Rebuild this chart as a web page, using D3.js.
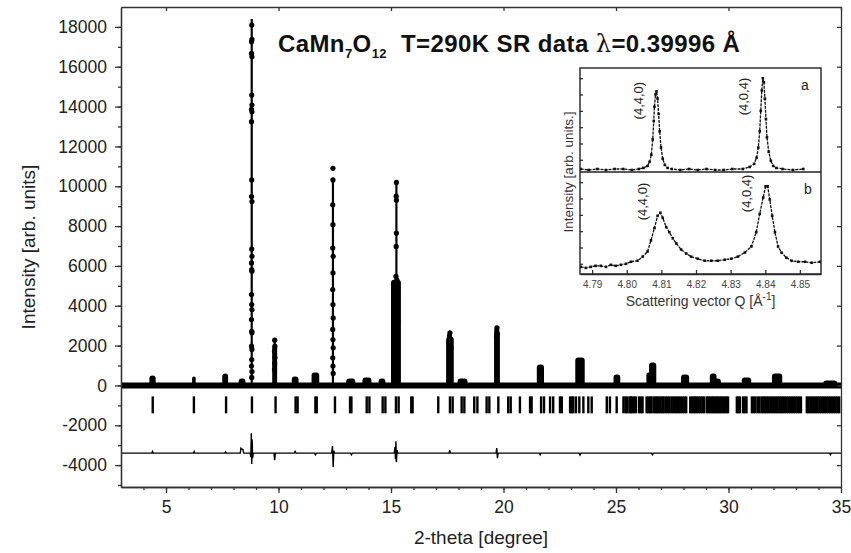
<!DOCTYPE html>
<html>
<head>
<meta charset="UTF-8">
<title>CaMn7O12 powder pattern</title>
<script src="https://d3js.org/d3.v7.min.js"></script>
<style>
  body { margin: 0; background: #fff; }
  svg { display: block; font-family: "Liberation Sans", Arial, sans-serif; }
  .axis path, .axis line { stroke: #333; stroke-width: 1.3; }
  .axis text { fill: #222; font-size: 17.5px; font-family: "Liberation Sans", Arial, sans-serif; }
  .inset .axis text { font-size: 10px; fill: #444; }
</style>
</head>
<body>
<svg id="chart" width="851" height="553"></svg>
<script>
// ---- main pattern data (2-theta in degree, intensity in arb. units) ----
const xTicks = [5, 10, 15, 20, 25, 30, 35];
const yTicks = [-4000, -2000, 0, 2000, 4000, 6000, 8000, 10000, 12000, 14000, 16000, 18000];

// small / medium reflections drawn as mounds: position, height, width
const peakTheta  = [4.40, 4.96, 5.88, 6.24, 7.63, 8.38, 9.49, 9.83, 10.74, 11.64, 13.21, 13.93, 14.60, 15.22, 15.93, 17.10, 17.62, 18.18, 19.71, 20.73, 21.64, 23.40, 25.04, 26.45, 26.63, 28.07, 29.32, 29.52, 30.80, 32.16, 34.52];
const peakHeight = [500, 120, 100, 450, 600, 350, 120, 2000, 450, 650, 350, 400, 350, 5300, 120, 100, 2450, 350, 2750, 100, 1050, 1400, 550, 650, 1150, 550, 600, 350, 400, 600, 250];
const peakWidth  = [0.28, 0.15, 0.15, 0.16, 0.26, 0.30, 0.18, 0.22, 0.30, 0.34, 0.40, 0.40, 0.30, 0.44, 0.20, 0.15, 0.34, 0.44, 0.26, 0.18, 0.32, 0.42, 0.30, 0.20, 0.32, 0.36, 0.30, 0.28, 0.42, 0.46, 0.62];

// calculated profile of the strong narrow lines
const stickTheta = [8.81, 9.83, 12.42, 15.24, 17.62, 19.71];
const stickTop   = [18400, 2350, 10300, 10190, 2450, 2850];

// observed points on the strong lines
const obsPoints = [
  [8.81, 18090], [8.82, 17370], [8.80, 17250], [8.80, 16670], [8.82, 16500], [8.81, 14580], [8.82, 14080],
  [8.80, 13860], [8.82, 13740], [8.80, 13240], [8.81, 10320], [8.80, 9480], [8.82, 9230], [8.81, 6850],
  [8.82, 6480], [8.80, 6150], [8.81, 5810], [8.82, 5730], [8.80, 4560], [8.81, 4060], [8.82, 3810],
  [8.80, 3310], [8.81, 2720], [8.82, 2640], [8.80, 1970], [8.82, 1800], [8.81, 1300], [8.80, 970],
  [8.82, 700], [8.81, 400],
  [9.83, 2270], [9.84, 1970], [9.82, 1700], [9.84, 1400], [9.83, 1100], [9.82, 800],
  [12.42, 10900], [12.42, 10320], [12.41, 9070], [12.42, 8070], [12.41, 6900], [12.43, 6480], [12.42, 5650],
  [12.41, 4810], [12.42, 4060], [12.43, 3390], [12.41, 2810], [12.42, 2300], [12.43, 1890], [12.41, 1390],
  [12.42, 970], [12.43, 600],
  [15.24, 10190], [15.23, 9500], [15.24, 9300], [15.24, 7650], [15.23, 6980], [15.22, 5480], [15.26, 5300],
  [15.18, 5150], [15.15, 4700], [15.30, 4500], [15.14, 3600], [15.31, 3200],
  [17.62, 2640], [17.60, 2500], [17.64, 2350], [17.58, 2150], [17.66, 1900],
  [19.71, 2890], [19.70, 2750], [19.72, 2600], [19.69, 2400]
];

// baseline of the observed pattern
const background = [[3, 0], [35, 0]];

// Bragg reflection markers
const reflTheta = [4.41, 6.24, 7.67, 8.82, 9.87, 10.76, 10.85, 11.64, 11.70, 12.51, 13.18, 13.24, 13.92, 14.04,
  14.63, 14.75, 15.22, 15.34, 15.90, 15.96, 17.10, 17.62, 17.74, 18.14, 18.26, 18.70, 18.84,
  19.25, 19.37, 19.77, 20.21, 20.32, 20.73, 21.18, 21.25, 21.67, 21.80, 22.07, 22.21, 22.51, 22.59,
  22.96, 23.04, 23.10, 23.22, 23.37, 23.55, 23.77, 23.92, 24.59, 24.73, 25.03, 25.33, 25.42, 25.50,
  25.60, 25.66, 25.72, 25.80, 25.88, 26.02, 26.10, 26.18, 26.36, 26.44, 26.52, 26.58, 26.68, 26.76,
  26.82, 26.90, 26.98, 27.06, 27.12, 27.22, 27.30, 27.38, 27.47, 27.55, 27.63, 27.72, 27.80, 27.88,
  27.96, 28.04, 28.12, 28.30, 28.38, 28.45, 28.52, 28.60, 28.68, 28.76, 28.84, 28.92, 29.04, 29.11,
  29.18, 29.26, 29.33, 29.40, 29.47, 29.54, 29.61, 29.68, 29.76, 29.84, 29.92, 29.98, 30.37, 30.44,
  30.51, 30.65, 30.72, 30.80, 31.04, 31.12, 31.20, 31.30, 31.38, 31.48, 31.55, 31.62, 31.70, 31.78,
  31.86, 31.94, 32.02, 32.10, 32.18, 32.26, 32.34, 32.42, 32.50, 32.58, 32.66, 32.74, 32.82, 32.90,
  32.98, 33.06, 33.14, 33.22, 33.48, 33.56, 33.64, 33.72, 33.80, 33.88, 33.96, 34.04, 34.12, 34.20,
  34.28, 34.36, 34.44, 34.52, 34.60, 34.68, 34.76, 34.84, 34.92];

// difference curve (obs - calc), plotted shifted down
const diffPoints = [
  [3, 0], [4.37, 0], [4.40, 80], [4.43, 0], [6.22, 0], [6.25, 80], [6.28, 0], [7.62, 0], [7.65, 60], [7.68, 0],
  [8.30, 0], [8.33, 250], [8.38, 200], [8.42, 180], [8.45, 0], [8.74, 0], [8.77, -200], [8.79, 1000],
  [8.81, -550], [8.83, 700], [8.85, -250], [8.88, 0], [9.80, 0], [9.83, -350], [9.86, 0],
  [10.70, 0], [10.74, 80], [10.78, 0], [11.60, 0], [11.64, -80], [11.68, 0],
  [12.36, 0], [12.40, 350], [12.43, -700], [12.46, 120], [12.50, 0], [13.20, 0], [13.24, -80], [13.28, 0],
  [15.14, 0], [15.18, 300], [15.20, -300], [15.22, 600], [15.24, -450], [15.27, 150], [15.30, 0],
  [17.58, 0], [17.61, 150], [17.64, 0], [19.67, 0], [19.70, 250], [19.73, -250], [19.76, 0],
  [21.60, 0], [21.63, -80], [21.66, 0], [23.36, 0], [23.40, -100], [23.44, 0],
  [26.58, 0], [26.62, -80], [26.66, 0], [34.50, 0], [34.53, -80], [34.56, 0], [35, 0]
];

// ---- inset: (4,4,0) and (4,0,4) reflections vs scattering vector Q ----
const qTicks = [4.79, 4.80, 4.81, 4.82, 4.83, 4.84, 4.85];
const insetA = [
  [4.7867, 1], [4.789, 0], [4.7915, 1], [4.794, 0], [4.7965, 1], [4.799, 1], [4.8015, 0], [4.8035, 1],
  [4.8048, 2], [4.806, 4], [4.8066, 8], [4.8071, 15], [4.8075, 30], [4.8078, 48], [4.808, 62], [4.8083, 74],
  [4.8086, 77], [4.8089, 70], [4.8092, 55], [4.8095, 38], [4.8099, 22], [4.8104, 11], [4.811, 5],
  [4.8118, 2], [4.813, 1], [4.8155, 0], [4.818, 1], [4.8205, 0], [4.823, 1], [4.8255, 0], [4.828, 0],
  [4.8305, 1], [4.8335, 1], [4.8355, 3], [4.8368, 6], [4.8375, 12], [4.838, 22], [4.8384, 38], [4.8387, 58],
  [4.839, 78], [4.8393, 90], [4.8396, 86], [4.8399, 70], [4.8402, 50], [4.8405, 32], [4.841, 18],
  [4.8416, 9], [4.8423, 4], [4.8432, 2], [4.845, 1], [4.848, 0], [4.851, 1]
];
const insetB = [
  [4.7867, 7], [4.7882, 6], [4.7896, 7], [4.791, 8], [4.7925, 8], [4.794, 7], [4.7954, 9], [4.7968, 8],
  [4.7983, 9], [4.7998, 10], [4.8012, 12], [4.8031, 13], [4.8046, 17], [4.806, 22], [4.807, 33],
  [4.808, 45], [4.8089, 57], [4.8097, 60], [4.8104, 55], [4.8114, 46], [4.8123, 41], [4.8133, 35],
  [4.8143, 30], [4.8157, 24], [4.8172, 20], [4.8186, 17], [4.8205, 15], [4.8225, 13], [4.8244, 13],
  [4.8263, 13], [4.8283, 14], [4.8302, 15], [4.8321, 17], [4.8341, 21], [4.836, 27], [4.8374, 41],
  [4.8384, 59], [4.8394, 75], [4.8401, 86], [4.8407, 86], [4.8413, 73], [4.842, 57], [4.8428, 41],
  [4.8437, 27], [4.8447, 21], [4.8461, 16], [4.8476, 13], [4.8495, 12], [4.8515, 12], [4.8534, 11],
  [4.8558, 12]
];
const insetLabels = [
  { panel: "a", q: 4.8076, v: 68, text: "(4,4,0)" },
  { panel: "a", q: 4.8379, v: 72, text: "(4,0,4)" },
  { panel: "b", q: 4.8087, v: 71, text: "(4,4,0)" },
  { panel: "b", q: 4.8389, v: 79, text: "(4,0,4)" }
];

// ---- layout ----
const W = 851, H = 553;
const m = { left: 121, top: 7, right: 10, bottom: 66 };
const svg = d3.select("#chart");
svg.append("rect").attr("width", W).attr("height", H).attr("fill", "#fff");

const x = d3.scaleLinear().domain([3, 35]).range([m.left, W - m.right]);
const y = d3.scaleLinear().domain([-5100, 19000]).range([H - m.bottom, m.top]);
const diffOffset = -3400;
const reflTop = -550, reflBottom = -1400;

const plot = svg.append("g");

// baseline band
plot.append("path")
  .datum(background)
  .attr("fill", "none").attr("stroke", "#000").attr("stroke-width", 6)
  .attr("d", d3.line().x(d => x(d[0])).y(d => y(d[1])));

// mounds
plot.selectAll(".mound")
  .data(peakTheta.map((t, i) => ({ t, h: peakHeight[i], w: peakWidth[i] })))
  .enter().append("path")
  .attr("class", "mound")
  .attr("fill", "#000")
  .attr("d", d => {
    const x0 = x(d.t - d.w / 2), x1 = x(d.t + d.w / 2);
    const yt = y(d.h), yb = y(0);
    const r = Math.min(3, (x1 - x0) / 2, (yb - yt) / 2 + 1);
    return `M${x0},${yb}L${x0},${yt + r}Q${x0},${yt} ${x0 + r},${yt}L${x1 - r},${yt}Q${x1},${yt} ${x1},${yt + r}L${x1},${yb}Z`;
  });

// calculated lines
plot.selectAll(".stick")
  .data(stickTheta.map((t, i) => ({ t, top: stickTop[i] })))
  .enter().append("line")
  .attr("stroke", "#000").attr("stroke-width", 2.2)
  .attr("x1", d => x(d.t)).attr("x2", d => x(d.t))
  .attr("y1", y(0)).attr("y2", d => y(d.top));

// observed points
plot.selectAll(".obs")
  .data(obsPoints)
  .enter().append("circle")
  .attr("r", 2.6).attr("fill", "#000")
  .attr("cx", d => x(d[0])).attr("cy", d => y(d[1]));

// Bragg markers
plot.selectAll(".refl")
  .data(reflTheta)
  .enter().append("line")
  .attr("stroke", "#000").attr("stroke-width", 2.4)
  .attr("x1", d => x(d)).attr("x2", d => x(d))
  .attr("y1", y(reflTop)).attr("y2", y(reflBottom));

// difference curve
plot.append("path")
  .datum(diffPoints)
  .attr("fill", "none").attr("stroke", "#000").attr("stroke-width", 1.4)
  .attr("d", d3.line().x(d => x(d[0])).y(d => y(d[1] + diffOffset)));

// ---- axes ----
const xMinor = d3.range(4, 35, 1);
const yMinor = d3.range(-5000, 19000, 1000);
const plain = d => String(d);

svg.append("g").attr("class", "axis").attr("transform", `translate(0,${H - m.bottom})`)
  .call(d3.axisBottom(x).tickValues(xTicks).tickSize(6).tickPadding(8).tickFormat(plain).tickSizeOuter(0));
svg.append("g").attr("class", "axis").attr("transform", `translate(0,${H - m.bottom})`)
  .call(d3.axisBottom(x).tickValues(xMinor).tickSize(3).tickFormat("").tickSizeOuter(0));
svg.append("g").attr("class", "axis").attr("transform", `translate(0,${m.top})`)
  .call(d3.axisBottom(x).tickValues(xTicks).tickSize(4).tickFormat("").tickSizeOuter(0));

svg.append("g").attr("class", "axis").attr("transform", `translate(${m.left},0)`)
  .call(d3.axisLeft(y).tickValues(yTicks).tickSize(6).tickPadding(8).tickFormat(plain).tickSizeOuter(0));
svg.append("g").attr("class", "axis").attr("transform", `translate(${m.left},0)`)
  .call(d3.axisLeft(y).tickValues(yMinor).tickSize(3).tickFormat("").tickSizeOuter(0));
svg.append("g").attr("class", "axis").attr("transform", `translate(${W - m.right},0)`)
  .call(d3.axisLeft(y).tickValues(yTicks).tickSize(4).tickFormat("").tickSizeOuter(0));

svg.append("text")
  .attr("x", (m.left + W - m.right) / 2).attr("y", 544)
  .attr("text-anchor", "middle").attr("font-size", 19).attr("fill", "#222")
  .text("2-theta [degree]");
svg.append("text")
  .attr("transform", `translate(35,${(m.top + H - m.bottom) / 2})rotate(-90)`)
  .attr("text-anchor", "middle").attr("font-size", 19).attr("fill", "#222")
  .text("Intensity [arb. units]");

// ---- title ----
const title = svg.append("text").attr("x", 278).attr("y", 52)
  .attr("font-size", 24).attr("font-weight", "bold").attr("fill", "#111")
  .attr("letter-spacing", 0.4);
title.append("tspan").text("CaMn");
title.append("tspan").attr("dy", 6).attr("font-size", 13).text("7");
title.append("tspan").attr("dy", -6).text("O");
title.append("tspan").attr("dy", 6).attr("font-size", 13).text("12");
title.append("tspan").attr("dy", -6).text("\u00a0 T=290K SR data ");
title.append("tspan").attr("font-family", "'DejaVu Serif', serif").attr("font-weight", "normal").text("\u03bb");
title.append("tspan").text("=0.39996 \u00c5");

// ---- inset ----
const ins = { left: 580, right: 821, top: 68, mid: 172, bottom: 274 };
const q = d3.scaleLinear().domain([4.7865, 4.8561]).range([ins.left, ins.right]);
const ya = d3.scaleLinear().domain([0, 100]).range([ins.mid - 2, ins.top]);
const yb = d3.scaleLinear().domain([0, 100]).range([ins.bottom, ins.mid]);
const inset = svg.append("g").attr("class", "inset");

inset.append("rect")
  .attr("x", ins.left).attr("y", ins.top)
  .attr("width", ins.right - ins.left).attr("height", ins.bottom - ins.top)
  .attr("fill", "#fff");

svg.append("clipPath").attr("id", "insetClip").append("rect")
  .attr("x", ins.left).attr("y", ins.top)
  .attr("width", ins.right - ins.left).attr("height", ins.bottom - ins.top);

[[insetA, ya], [insetB, yb]].forEach(([data, ys]) => {
  const g = inset.append("g").attr("clip-path", "url(#insetClip)");
  g.append("path").datum(data)
    .attr("fill", "none").attr("stroke", "#111").attr("stroke-width", 1.3)
    .attr("stroke-dasharray", "3,1")
    .attr("d", d3.line().x(d => q(d[0])).y(d => ys(d[1])));
  g.selectAll("rect").data(data).enter().append("rect")
    .attr("x", d => q(d[0]) - 1.3).attr("y", d => ys(d[1]) - 1.3)
    .attr("width", 2.6).attr("height", 2.6).attr("fill", "#111");
});

// inset axes
inset.append("g").attr("class", "axis").attr("transform", `translate(0,${ins.bottom})`)
  .call(d3.axisTop(q).tickValues(qTicks).tickSize(4).tickFormat("").tickSizeOuter(0));
inset.append("g").attr("class", "axis").attr("transform", `translate(0,${ins.bottom})`)
  .call(d3.axisBottom(q).tickValues(qTicks).tickSize(0).tickPadding(7).tickFormat(d3.format(".2f")).tickSizeOuter(0))
  .call(g => g.select(".domain").remove());
inset.append("g").attr("class", "axis").attr("transform", `translate(${ins.left},0)`)
  .call(d3.axisRight(ya).tickValues([10, 26, 42, 58, 74, 90]).tickSize(3).tickFormat("").tickSizeOuter(0))
  .call(g => g.select(".domain").remove());
inset.append("g").attr("class", "axis").attr("transform", `translate(${ins.left},0)`)
  .call(d3.axisRight(yb).tickValues([10, 26, 42, 58, 74, 90]).tickSize(3).tickFormat("").tickSizeOuter(0))
  .call(g => g.select(".domain").remove());

inset.append("rect")
  .attr("x", ins.left).attr("y", ins.top)
  .attr("width", ins.right - ins.left).attr("height", ins.bottom - ins.top)
  .attr("fill", "none").attr("stroke", "#222").attr("stroke-width", 1.4);
inset.append("line")
  .attr("x1", ins.left).attr("x2", ins.right).attr("y1", ins.mid).attr("y2", ins.mid)
  .attr("stroke", "#222").attr("stroke-width", 1.4);

inset.selectAll(".plabel")
  .data(insetLabels)
  .enter().append("text")
  .attr("transform", d => `translate(${q(d.q) - 10},${(d.panel === "a" ? ya : yb)(d.v)})rotate(-90)`)
  .attr("text-anchor", "middle").attr("font-size", 13).attr("fill", "#222")
  .text(d => d.text);

inset.append("text").attr("x", 805).attr("y", 90).attr("text-anchor", "middle")
  .attr("font-size", 14).attr("fill", "#222").text("a");
inset.append("text").attr("x", 808).attr("y", 194).attr("text-anchor", "middle")
  .attr("font-size", 14).attr("fill", "#222").text("b");

inset.append("text")
  .attr("transform", `translate(573,${ins.mid})rotate(-90)`)
  .attr("text-anchor", "middle").attr("font-size", 13.5).attr("fill", "#333")
  .text("Intensity [arb. units.]");

const qLabel = inset.append("text").attr("x", (ins.left + ins.right) / 2).attr("y", 306)
  .attr("text-anchor", "middle").attr("font-size", 14).attr("fill", "#333");
qLabel.append("tspan").text("Scattering vector Q [\u00c5");
qLabel.append("tspan").attr("dy", -6).attr("font-size", 10).text("-1");
qLabel.append("tspan").attr("dy", 6).text("]");
</script>
</body>
</html>
